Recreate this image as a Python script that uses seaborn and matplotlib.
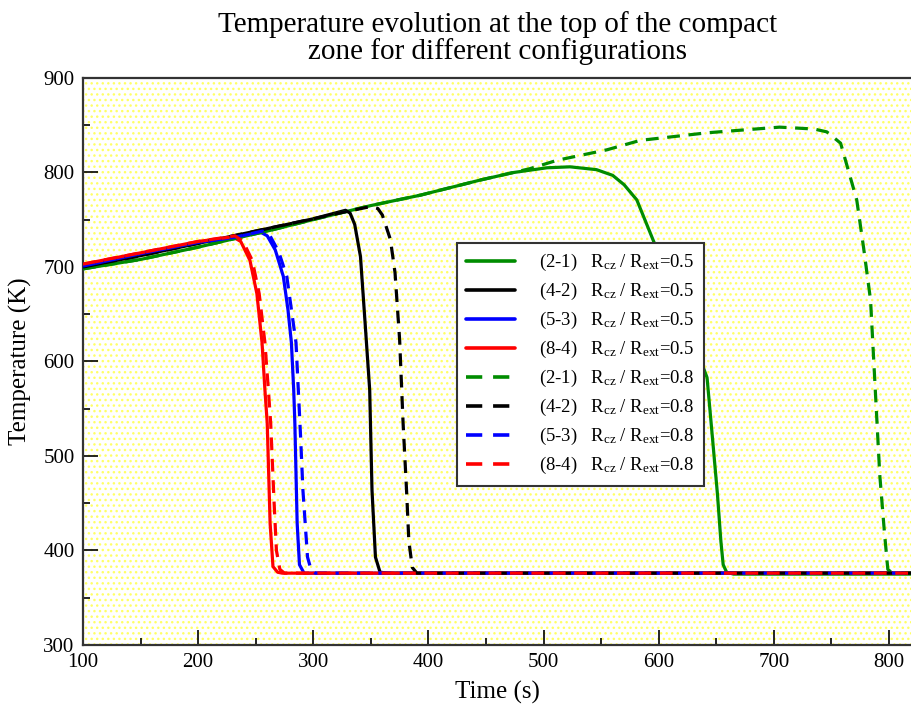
import numpy as np
import pandas as pd
import matplotlib
matplotlib.use("Agg")
import matplotlib.pyplot as plt
import seaborn as sns
from matplotlib.patches import Rectangle
from matplotlib.lines import Line2D

sns.set_style("ticks")
plt.rcParams['font.family'] = ['Liberation Serif', 'DejaVu Serif']
plt.rcParams['mathtext.fontset'] = 'custom'
plt.rcParams['mathtext.rm'] = 'Liberation Serif'
plt.rcParams['mathtext.it'] = 'Liberation Serif:italic'
plt.rcParams['text.color'] = 'black'
plt.rcParams['axes.labelcolor'] = 'black'
plt.rcParams['xtick.color'] = 'black'
plt.rcParams['ytick.color'] = 'black'

#Time (s) / temperature (K)
# Rcz/Rext = 0.5
t_21a = [100, 150, 200, 228, 260, 306, 350, 393, 445, 474, 503, 523, 546, 560, 570, 581, 595, 620, 642, 647, 651, 654, 656, 659, 665, 820]
T_21a = [698, 708, 721, 729, 738, 752, 765, 776, 792, 800, 805, 806, 803, 797, 787, 771, 729, 655, 583, 515, 460, 410, 385, 377, 375, 375]
t_42a = [100, 150, 200, 250, 300, 328, 332, 336, 341, 345, 349, 351, 354, 358, 365, 820]
T_42a = [700, 712, 725, 738, 751, 760, 757, 745, 711, 641, 570, 464, 393, 377, 376, 376]
t_53a = [100, 150, 200, 230, 254, 260, 267, 274, 278, 281, 283, 284, 286, 288, 292, 820]
T_53a = [701, 714, 726, 731, 737, 733, 718, 690, 655, 620, 570, 535, 429, 385, 376, 376]
t_84a = [100, 150, 200, 230, 237, 245, 251, 255.5, 258, 260, 262.5, 265, 269, 273, 820]
T_84a = [703, 715, 727, 732, 727, 707, 672, 620, 570, 535, 429, 383, 377, 376, 376]

# Rcz/Rext = 0.8
t_21b = [100, 150, 200, 228, 260, 306, 350, 393, 445, 488, 512, 555, 584, 642, 705, 735, 746, 758, 772, 778, 784, 792, 796, 799, 803, 820]
T_21b = [698, 708, 721, 729, 738, 752, 765, 776, 792, 804, 813, 824, 834, 842, 848, 846, 843, 831, 771, 720, 665, 480, 420, 380, 376, 376]
t_42b = [100, 150, 200, 250, 300, 330, 350, 356, 360, 367, 371, 375, 378, 381, 383, 386, 390, 820]
T_42b = [700, 712, 725, 738, 751, 759, 764, 762, 755, 729, 694, 623, 535, 464, 410, 382, 376, 376]
t_53b = [100, 150, 200, 230, 256, 262, 270, 277, 281, 285, 287, 289, 291, 295, 298, 302, 820]
T_53b = [701, 714, 726, 731, 738, 734, 716, 690, 655, 620, 570, 520, 464, 393, 380, 376, 376]
t_84b = [100, 150, 200, 232, 239, 247, 253, 258, 261, 263, 266, 268, 271, 275, 820]
T_84b = [703, 715, 727, 733, 727, 707, 672, 620, 570, 535, 450, 400, 380, 376, 376]

configs = ['(2-1)', '(4-2)', '(5-3)', '(8-4)']
colors = ['#008c00', 'black', '#0000ff', '#ff0000']
ratios = ['0.5', '0.8']
series = [[(t_21a, T_21a), (t_42a, T_42a), (t_53a, T_53a), (t_84a, T_84a)],
          [(t_21b, T_21b), (t_42b, T_42b), (t_53b, T_53b), (t_84b, T_84b)]]

fig = plt.figure(figsize=(9.12, 7.13), dpi=100)
ax = fig.add_axes([0.091, 0.0954, 0.909, 0.7952])

#dotted yellow background
ax.set_facecolor('white')
ax.add_patch(Rectangle((0, 0), 1, 1, transform=ax.transAxes, facecolor='white',
                       edgecolor='#ffff66', hatch='...', linewidth=0, zorder=0))

handles = []
labels = []
for j, r in enumerate(ratios):
    ls = '-' if j == 0 else (0, (4, 2.7))
    for i, c in enumerate(configs):
        t, T = series[j][i]
        df = pd.DataFrame({'t': t, 'T': T})
        sns.lineplot(data=df, x='t', y='T', ax=ax, color=colors[i], linestyle=ls,
                     linewidth=2.3, zorder=2 + j)
        hls = '-' if j == 0 else (0, (4.5, 3))
        handles.append(Line2D([], [], color=colors[i], linestyle=hls, linewidth=2.6))
        labels.append(c + r'   R$_{\rm cz}$ / R$_{\rm ext}$=' + r)

ax.set_xlim(100, 820)
ax.set_ylim(300, 900)
ax.set_xticks(np.arange(100, 801, 100))
ax.set_yticks(np.arange(300, 901, 100))
ax.set_xticks(np.arange(150, 820, 100), minor=True)
ax.set_yticks(np.arange(350, 900, 100), minor=True)
ax.tick_params(which='major', direction='in', length=11, width=1.2, labelsize=15, pad=6)
ax.tick_params(which='minor', direction='in', length=5, width=1.2)
ax.spines['right'].set_visible(False)
for s in ['left', 'bottom', 'top']:
    ax.spines[s].set_linewidth(1.6)
    ax.spines[s].set_color('#333333')

ax.set_xlabel('Time (s)', fontsize=18, labelpad=6)
ax.set_ylabel('Temperature (K)', fontsize=18, labelpad=8)
ax.set_title('Temperature evolution at the top of the compact\nzone for different configurations',
             fontsize=21, linespacing=1.0, pad=14)

leg = ax.legend(handles, labels, loc='upper left', bbox_to_anchor=(0.451, 0.709),
                fontsize=13.5, frameon=True, fancybox=False, edgecolor='#333333',
                framealpha=1, handlelength=2.6, handletextpad=1.3, labelspacing=0.42,
                borderpad=0.5, borderaxespad=0)
leg.get_frame().set_linewidth(1.5)

fig.savefig('out.png', dpi=100)
